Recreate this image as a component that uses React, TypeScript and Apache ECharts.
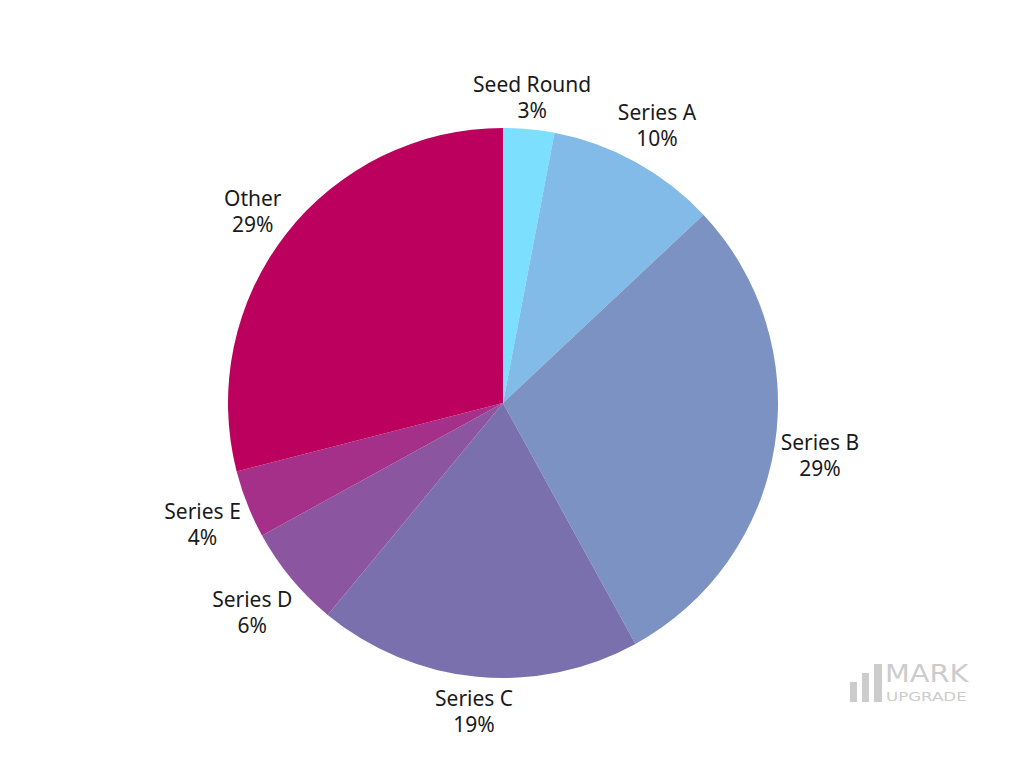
import React, { useEffect, useRef } from "react";
import * as echarts from "echarts";

const categories = ["Seed Round", "Series A", "Series B", "Series C", "Series D", "Series E", "Other"];
const values = [3, 10, 29, 19, 6, 4, 29];
const colors = ["#7BDFFD", "#82BAE8", "#7C92C3", "#7B70AE", "#8C55A0", "#A43089", "#BB005E"];

const CX = 503;
const CY = 403;
const R = 275;
const GAP = 3;

export default function App() {
  const ref = useRef<HTMLDivElement>(null);
  useEffect(() => {
    if (!ref.current) return;
    const chart = echarts.init(ref.current, undefined, { renderer: "svg" });
    const total = values.reduce((a, b) => a + b, 0);
    const mids: number[] = [];
    let acc = 0;
    values.forEach((v) => {
      mids.push(((acc + v / 2) / total) * Math.PI * 2);
      acc += v;
    });
    chart.setOption({
      animation: false,
      backgroundColor: "#ffffff",
      graphic: [
        { type: "rect", shape: { x: 850, y: 682, width: 7, height: 20 }, style: { fill: "#cccccc" } },
        { type: "rect", shape: { x: 862, y: 673, width: 7, height: 29 }, style: { fill: "#cccccc" } },
        { type: "rect", shape: { x: 874, y: 664, width: 8, height: 38 }, style: { fill: "#cccccc" } },
        {
          type: "text",
          x: 885,
          y: 673,
          scaleX: 1.2,
          style: {
            text: "MARK",
            fill: "#cccccc",
            font: "24px 'DejaVu Sans'",
            textVerticalAlign: "middle",
          },
        },
        {
          type: "text",
          x: 886,
          y: 697,
          scaleX: 1.28,
          style: {
            text: "UPGRADE",
            fill: "#cccccc",
            font: "13px 'DejaVu Sans'",
            textVerticalAlign: "middle",
          },
        },
      ],
      series: [
        {
          type: "pie",
          center: [CX, CY],
          radius: [0, R],
          startAngle: 90,
          clockwise: true,
          avoidLabelOverlap: false,
          itemStyle: { borderWidth: 0 },
          label: {
            show: true,
            position: "outside",
            formatter: (p: any) => `${p.name}\n${p.value}%`,
            fontFamily: "Noto Sans",
            fontSize: 21,
            lineHeight: 26,
            color: "#1a1a1a",
            align: "center",
          },
          labelLine: { show: false },
          labelLayout: (params: any) => {
            const a = mids[params.dataIndex];
            const s = Math.sin(a);
            const c = Math.cos(a);
            const w = params.labelRect.width;
            const h = params.labelRect.height;
            const d = R + GAP + Math.abs(s) * w / 2 + Math.abs(c) * h / 2;
            return {
              x: CX + d * s,
              y: CY - d * c + 2,
              align: "center",
              verticalAlign: "middle",
            };
          },
          emphasis: { disabled: true },
          data: categories.map((name, i) => ({
            name,
            value: values[i],
            itemStyle: { color: colors[i] },
          })),
        },
      ],
    });
    return () => chart.dispose();
  }, []);
  return (
    <div
      ref={ref}
      style={{ position: "fixed", left: 0, top: 0, width: 1024, height: 768, background: "#fff" }}
    />
  );
}
